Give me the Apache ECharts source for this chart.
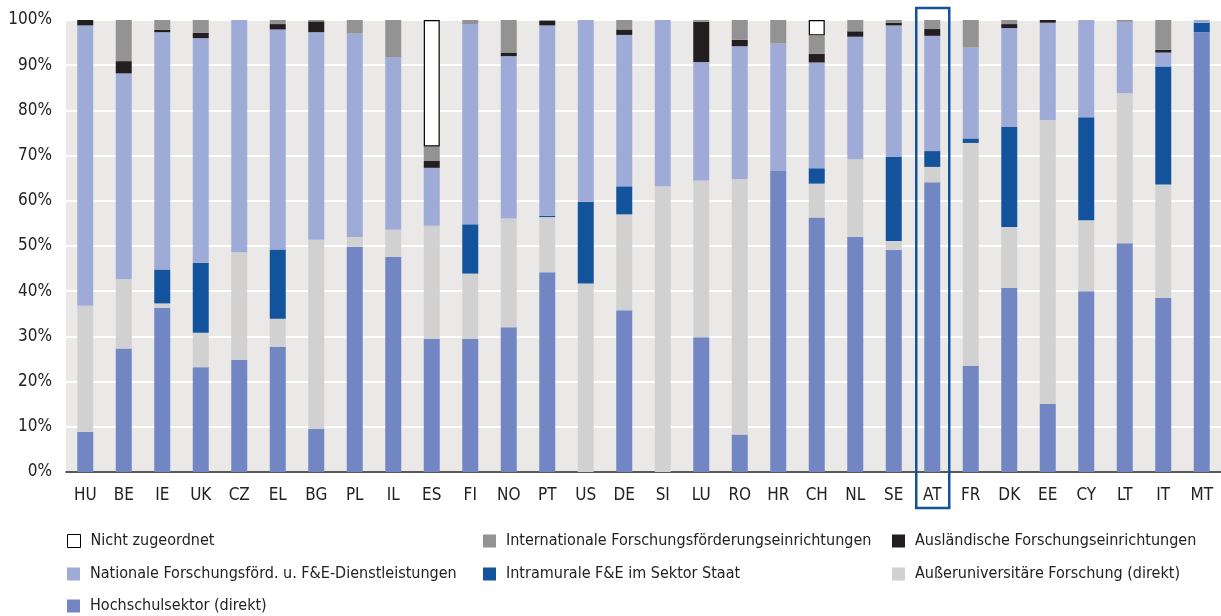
<!DOCTYPE html>
<html>
<head>
<meta charset="utf-8">
<script src="https://cdn.jsdelivr.net/npm/echarts@6/dist/echarts.min.js"></script>
<style>
  html, body { margin: 0; padding: 0; background: #fff; }
  #chart { width: 1221px; height: 616px; }
</style>
</head>
<body>
<div id="chart"></div>
<script>
// Länder (x-Achse)
const countries = ['HU','BE','IE','UK','CZ','EL','BG','PL','IL','ES','FI','NO','PT','US','DE','SI','LU','RO','HR','CH','NL','SE','AT','FR','DK','EE','CY','LT','IT','MT'];

// Anteile in % (von unten nach oben gestapelt)
const hochschul    = [8.9,27.3,36.3,23.2,24.8,27.7,9.5,49.8,47.6,29.4,29.4,32.0,44.2,0,35.8,0,29.8,8.3,66.6,56.3,52.0,49.1,64.1,23.5,40.7,15.1,40.0,50.6,38.5,97.3];
const ausseruni    = [27.9,15.4,1.0,7.6,23.8,6.2,41.9,2.2,6.0,25.1,14.5,24.1,12.2,41.7,21.2,63.2,34.7,56.5,0,7.5,17.2,2.0,3.4,49.3,13.5,62.8,15.7,33.2,25.1,0];
const intramural   = [0,0,7.5,15.5,0,15.3,0,0,0,0,10.9,0,0.3,18.1,6.2,0,0,0,0,3.4,0,18.6,3.5,1.0,22.1,0,22.8,0,26.1,2.1];
const national     = [62.0,45.5,52.5,49.7,51.4,48.7,45.9,45.0,38.1,12.8,44.3,35.9,42.1,40.2,33.5,36.8,26.2,29.4,28.2,23.4,27.1,29.1,25.5,20.1,21.9,21.5,21.5,15.8,3.1,0.6];
const auslaendisch = [1.2,2.7,0.5,1.2,0,1.2,2.4,0,0,1.5,0,0.8,1.0,0,1.2,0,8.9,1.4,0,1.9,1.2,0.6,1.5,0,0.9,0.6,0,0,0.6,0];
const internat     = [0,9.1,2.2,2.8,0,0.9,0.3,3.0,8.3,3.2,0.9,7.2,0.2,0,2.1,0,0.4,4.4,5.2,4.1,2.5,0.6,2.0,6.1,0.9,0,0,0.4,6.6,0];
const nichtZug     = [0,0,0,0,0,0,0,0,0,28.0,0,0,0,0,0,0,0,0,0,3.4,0,0,0,0,0,0,0,0,0,0];

const yTicks = [0,10,20,30,40,50,60,70,80,90,100];

const FONT = '"Liberation Sans Narrow", "DejaVu Sans Condensed", sans-serif';

const seriesDefs = [
  { name: 'Hochschulsektor (direkt)', data: hochschul, color: '#7186c3' },
  { name: 'Außeruniversitäre Forschung (direkt)', data: ausseruni, color: '#d1d1d1' },
  { name: 'Intramurale F&E im Sektor Staat', data: intramural, color: '#13539b' },
  { name: 'Nationale Forschungsförd. u. F&E-Dienstleistungen', data: national, color: '#9fabd7' },
  { name: 'Ausländische Forschungseinrichtungen', data: auslaendisch, color: '#231f20' },
  { name: 'Internationale Forschungsförderungseinrichtungen', data: internat, color: '#939393' },
  { name: 'Nicht zugeordnet', data: nichtZug, color: '#ffffff', border: true }
];

// Legende: 3 Spalten, 3 Zeilen
const legendPos = [
  ['Nicht zugeordnet', 67, 533],
  ['Internationale Forschungsförderungseinrichtungen', 483, 533],
  ['Ausländische Forschungseinrichtungen', 892, 533],
  ['Nationale Forschungsförd. u. F&E-Dienstleistungen', 67, 566],
  ['Intramurale F&E im Sektor Staat', 483, 566],
  ['Außeruniversitäre Forschung (direkt)', 892, 566],
  ['Hochschulsektor (direkt)', 67, 598]
];

const chart = echarts.init(document.getElementById('chart'));

chart.setOption({
  animation: false,
  backgroundColor: '#fff',
  grid: {
    left: 66, right: 0, top: 20, bottom: 144,
    show: true, backgroundColor: '#ebe9e8', borderWidth: 0
  },
  legend: legendPos.map(([name, x, y]) => ({
    left: x, top: y,
    padding: 0,
    icon: 'rect',
    itemWidth: 13,
    itemHeight: 13,
    selectedMode: false,
    data: [name === 'Nicht zugeordnet'
      ? { name, itemStyle: { borderColor: '#000', borderWidth: 1 } }
      : name],
    textStyle: { fontFamily: FONT, fontSize: 16, color: '#222', padding: [0, 0, 0, 5] }
  })),
  xAxis: {
    type: 'category',
    data: countries,
    axisTick: { show: false },
    axisLine: { lineStyle: { color: '#222', width: 1.5 } },
    axisLabel: { fontFamily: FONT, fontSize: 17, color: '#222', margin: 15 }
  },
  yAxis: {
    type: 'value',
    min: 0, max: 100, interval: 10,
    axisLabel: {
      fontFamily: FONT, fontSize: 17, color: '#222', margin: 14,
      formatter: v => (yTicks.indexOf(v) >= 0 ? v + '%' : '')
    },
    axisLine: { show: false },
    axisTick: { show: false },
    splitLine: { lineStyle: { color: '#ffffff', width: 2 } }
  },
  series: seriesDefs.map(s => ({
    name: s.name,
    type: 'bar',
    stack: 'total',
    barWidth: 16,
    data: s.data.map(v => (v > 0 ? v : null)),
    itemStyle: s.border
      ? { color: s.color, borderColor: '#000', borderWidth: 1.2 }
      : { color: s.color },
    emphasis: { disabled: true }
  }))
});

// Markierung Österreich
const atX = chart.convertToPixel({ xAxisIndex: 0 }, 'AT');
chart.setOption({
  graphic: [{
    type: 'rect',
    shape: { x: atX - 16, y: 8, width: 33, height: 500 },
    style: { fill: 'none', stroke: '#13539b', lineWidth: 2.5 },
    z: 100
  }]
});
</script>
</body>
</html>
